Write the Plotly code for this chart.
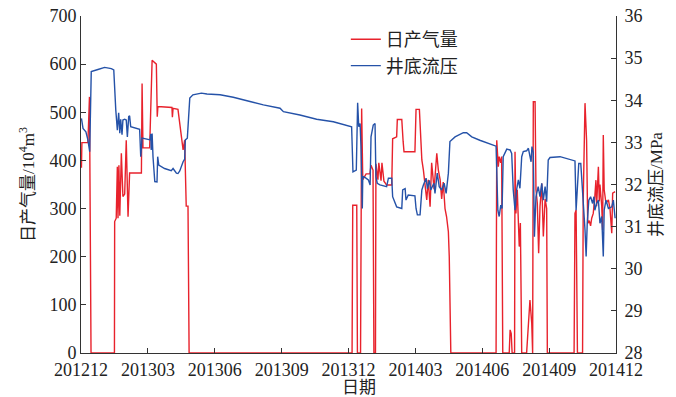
import plotly.graph_objects as go

# Time axis: months elapsed since December 2012
tick_months = [0, 3, 6, 9, 12, 15, 18, 21, 24]
tick_labels = ["201212", "201303", "201306", "201309", "201312",
               "201403", "201406", "201409", "201412"]

# Daily gas production (10^4 m^3/d)
gas_month = [0.02, 0.04, 0.31, 0.38, 0.45, 1.50, 1.51, 1.58, 1.63, 1.66, 1.70, 1.74,
             1.81, 1.88, 1.96, 2.03, 2.11, 2.18, 2.71, 2.74, 2.78, 3.08, 3.19, 3.38,
             3.42, 3.45, 4.08, 4.10, 4.13, 4.35, 4.58, 4.65, 4.72, 4.80, 4.85, 12.16,
             12.19, 12.37, 12.40, 12.54, 12.59, 12.64, 12.79, 12.96, 13.01, 13.10, 13.14,
             13.21, 13.23, 13.32, 13.36, 13.46, 13.50, 13.59, 13.71, 13.94, 13.98, 14.16,
             14.19, 14.39, 14.45, 14.49, 14.98, 15.03, 15.18, 15.29, 15.36, 15.51, 15.58,
             15.66, 15.73, 15.84, 15.96, 16.03, 16.11, 16.18, 16.25, 16.33, 16.40, 16.48,
             16.52, 16.59, 18.62, 18.65, 18.72, 18.76, 18.83, 18.87, 18.92, 19.21, 19.25,
             19.30, 19.34, 19.45, 19.47, 19.51, 19.57, 19.62, 19.66, 19.71, 19.77, 19.99,
             20.07, 20.14, 20.22, 20.26, 20.29, 20.37, 20.41, 20.47, 20.53, 20.59, 20.67,
             20.74, 20.82, 20.89, 20.92, 22.12, 22.16, 22.21, 22.27, 22.50, 22.53, 22.61,
             22.68, 22.73, 22.80, 22.86, 22.91, 22.98, 23.05, 23.10, 23.13, 23.21, 23.25,
             23.28, 23.36, 23.40, 23.43, 23.47, 23.55, 23.66, 23.73, 23.81, 23.85, 23.96]
gas_rate = [385, 437, 437, 532, 0, 0, 273, 280, 387, 280, 390, 285,
            415, 325, 330, 442, 283, 374, 374, 560, 426, 426, 608, 600,
            491, 512, 510, 490, 508, 506, 422, 442, 305, 305, 0, 0,
            307, 307, 0, 0, 508, 360, 372, 372, 390, 380, 0,
            0, 393, 360, 395, 358, 395, 357, 349, 349, 445, 449,
            485, 485, 440, 418, 418, 506, 506, 401, 380, 318, 360,
            304, 395, 340, 415, 380, 360, 320, 355, 300, 283, 252,
            200, 0, 0, 442, 387, 408, 395, 408, 0, 0, 48,
            40, 0, 0, 418, 290, 339, 269, 221, 270, 0, 0,
            62, 110, 62, 0, 522, 522, 339, 311, 207, 304, 352,
            242, 320, 300, 0, 0, 290, 297, 0, 0, 318, 519,
            442, 269, 275, 264, 280, 290, 325, 359, 305, 387, 315,
            350, 305, 255, 453, 339, 311, 318, 300, 249, 332, 335]

# Bottom-hole flowing pressure (MPa)
bhp_month = [0.02, 0.09, 0.22, 0.31, 0.39, 0.46, 0.76, 1.06, 1.36, 1.47, 1.56, 1.63,
             1.69, 1.74, 1.78, 1.84, 1.88, 1.96, 2.03, 2.08, 2.14, 2.18, 2.23, 2.41,
             2.63, 2.68, 2.74, 3.01, 3.10, 3.13, 3.15, 3.19, 3.23, 3.31, 3.41, 3.44,
             3.49, 3.75, 4.05, 4.13, 4.28, 4.35, 4.43, 4.58, 4.65, 4.68, 4.77, 4.88,
             5.02, 5.40, 5.65, 6.24, 6.83, 7.58, 8.18, 8.93, 9.08, 9.82, 10.57, 11.32,
             12.14, 12.20, 12.35, 12.41, 12.46, 12.52, 12.56, 12.62, 12.64, 12.74, 12.89,
             12.97, 13.01, 13.11, 13.19, 13.23, 13.29, 13.41, 13.71, 13.79, 13.94, 13.98,
             14.16, 14.39, 14.43, 14.54, 14.58, 14.68, 14.98, 15.03, 15.09, 15.21, 15.29,
             15.36, 15.48, 15.54, 15.63, 15.69, 15.78, 15.83, 15.88, 15.98, 16.07, 16.18,
             16.29, 16.38, 16.48, 16.55, 16.78, 17.15, 17.30, 17.53, 17.89, 18.35, 18.62,
             18.70, 18.76, 18.83, 18.89, 18.94, 19.10, 19.25, 19.32, 19.39, 19.47, 19.54,
             19.62, 19.69, 19.77, 19.84, 19.99, 20.07, 20.14, 20.19, 20.23, 20.29, 20.34,
             20.41, 20.51, 20.59, 20.67, 20.74, 20.82, 20.89, 20.96, 21.04, 21.49, 21.79,
             22.09, 22.16, 22.21, 22.27, 22.33, 22.42, 22.51, 22.57, 22.61, 22.66, 22.71,
             22.78, 22.86, 22.95, 23.01, 23.05, 23.13, 23.21, 23.28, 23.36, 23.43, 23.47,
             23.55, 23.66, 23.81, 23.88, 23.96]
bhp_mpa = [33.57, 33.33, 33.25, 33.06, 32.78, 34.68, 34.73, 34.78, 34.75, 34.72, 33.77, 33.29,
           33.70, 33.22, 33.55, 33.18, 33.53, 33.55, 33.53, 33.13, 33.61, 33.63, 33.37, 33.35,
           33.31, 32.66, 33.10, 33.07, 33.06, 33.20, 32.82, 33.21, 32.66, 32.07, 32.06, 32.66,
           32.46, 32.38, 32.33, 32.38, 32.27, 32.26, 32.32, 32.54, 32.60, 33.06, 33.10, 34.05,
           34.13, 34.17, 34.15, 34.13, 34.07, 33.97, 33.89, 33.81, 33.73, 33.65, 33.55, 33.49,
           33.37, 32.30, 32.34, 33.94, 33.37, 33.45, 32.90, 31.43, 32.19, 32.17, 32.11,
           31.99, 33.13, 33.41, 33.45, 32.19, 32.03, 31.99, 31.95, 32.15, 32.15, 31.71,
           31.47, 31.43, 31.87, 31.90, 31.63, 31.75, 31.73, 31.43, 31.28, 31.28, 31.87,
           31.99, 32.15, 31.90, 32.10, 31.87, 31.99, 32.03, 31.79, 32.27, 31.95, 31.87,
           32.03, 31.79, 32.27, 33.02, 33.13, 33.23, 33.23, 33.13, 33.05, 32.96, 32.91,
           31.39, 31.24, 31.51, 31.43, 32.66, 32.84, 32.82, 32.74, 31.87, 31.39, 31.87,
           32.11, 31.91, 32.66, 32.78, 32.80, 32.86, 32.70, 32.54, 32.90, 32.75, 30.76,
           31.71, 31.95, 31.71, 32.03, 31.63, 31.95, 31.59, 32.58, 32.64, 32.66, 32.62,
           32.58, 32.56, 31.39, 32.03, 32.50, 32.50, 31.75, 31.39, 30.92, 30.29, 31.08,
           31.63, 31.71, 31.55, 31.71, 31.39, 31.55, 31.63, 31.08, 31.24, 30.29, 31.39,
           31.63, 31.43, 31.47, 31.63, 31.20]

RED = "#e8222c"
BLUE = "#2552a8"
AXIS = "#333333"
NUM_FONT = "Times New Roman, Liberation Serif, DejaVu Serif, serif"
CJK_FONT = "Times New Roman, Liberation Serif, Noto Sans CJK SC, serif"

fig = go.Figure()
fig.add_trace(go.Scatter(x=gas_month, y=gas_rate, name="日产气量", mode="lines",
                         line=dict(color=RED, width=1.4)))
fig.add_trace(go.Scatter(x=bhp_month, y=bhp_mpa, name="井底流压", mode="lines",
                         line=dict(color=BLUE, width=1.4), yaxis="y2"))

axis_common = dict(showgrid=False, zeroline=False, showline=True, linecolor=AXIS,
                   linewidth=1, ticks="inside", ticklen=5, tickcolor=AXIS,
                   automargin=False,
                   tickfont=dict(family=NUM_FONT, size=18, color="#222222"))

fig.update_layout(
    width=676, height=397,
    margin=dict(l=81, r=60, t=16, b=44),
    paper_bgcolor="white", plot_bgcolor="white",
    font=dict(family=CJK_FONT, color="#222222"),
    xaxis=dict(range=[0, 24], tickvals=tick_months, ticktext=tick_labels,
               ticklabelstandoff=0, **axis_common),
    yaxis=dict(range=[0, 700], dtick=100,
               title=dict(text="日产气量/10<sup>4</sup>m<sup>3</sup>",
                          font=dict(family=CJK_FONT, size=17), standoff=10),
               **axis_common),
    yaxis2=dict(range=[28, 36], dtick=1, overlaying="y", side="right",
                ticklabelstandoff=4,
                title=dict(text="井底流压/MPa", font=dict(family=CJK_FONT, size=17), standoff=8),
                **axis_common),
    legend=dict(x=0.495, y=0.985, xanchor="left", yanchor="top",
                bgcolor="rgba(0,0,0,0)", font=dict(family=CJK_FONT, size=18),
                tracegroupgap=2),
    showlegend=True,
)

# x-axis title placed below the date labels
fig.add_annotation(text="日期", xref="paper", yref="paper", x=0.52, y=-0.103,
                   xanchor="center", yanchor="middle", showarrow=False,
                   font=dict(family=CJK_FONT, size=17, color="#222222"))

fig.write_html("out.html")
